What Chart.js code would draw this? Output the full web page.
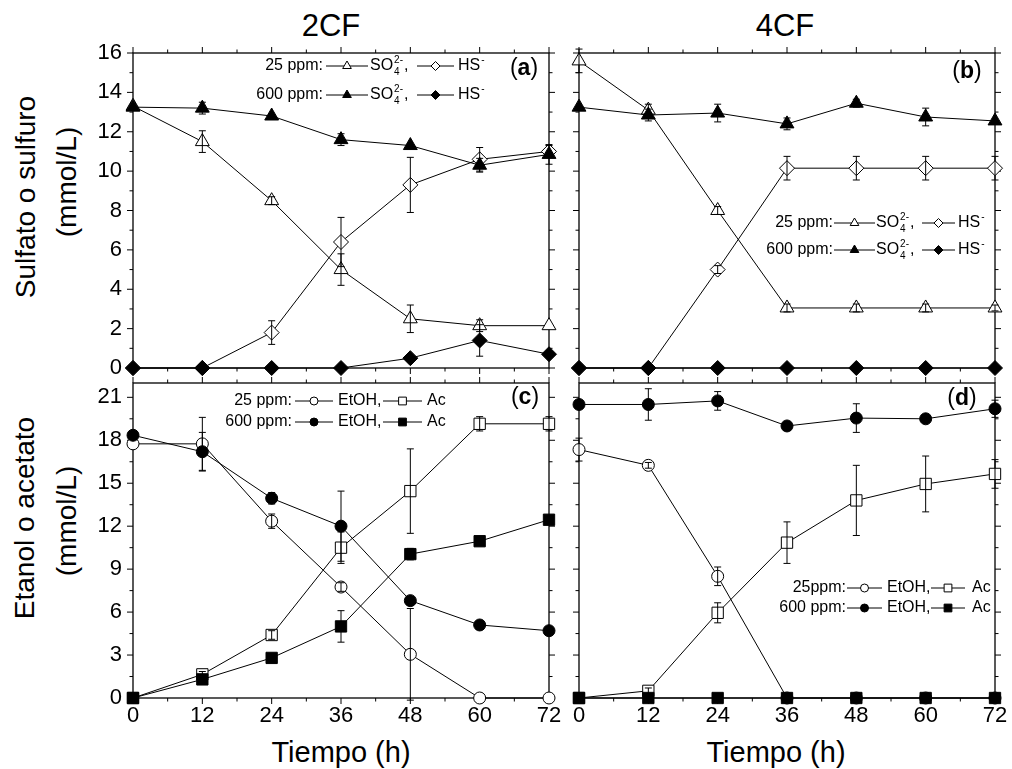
<!DOCTYPE html>
<html>
<head>
<meta charset="utf-8">
<script src="https://cdn.jsdelivr.net/npm/chart.js@4.4.1/dist/chart.umd.min.js"></script>
<style>
  body { margin: 0; background: #fff; width: 1012px; height: 769px; position: relative; overflow: hidden;
         font-family: "Liberation Sans", Arial, sans-serif; color: #000; }
  canvas { position: absolute; }
  .t { position: absolute; white-space: nowrap; line-height: 1; transform: translate(-50%, -50%); }
  .r { transform: translate(-50%, -50%) rotate(-90deg); }
</style>
</head>
<body>
<div class="t" style="left:331px;top:25px;font-size:31px">2CF</div>
<div class="t" style="left:785px;top:25px;font-size:31px">4CF</div>
<div class="t r" style="left:26px;top:197px;font-size:28px">Sulfato o sulfuro</div>
<div class="t r" style="left:67px;top:182px;font-size:28px">(mmol/L)</div>
<div class="t r" style="left:25px;top:518px;font-size:28px">Etanol o acetato</div>
<div class="t r" style="left:67px;top:521px;font-size:28px">(mmol/L)</div>
<div class="t" style="left:341px;top:752px;font-size:29px">Tiempo (h)</div>
<div class="t" style="left:776px;top:752px;font-size:29px">Tiempo (h)</div>

<canvas id="pa"></canvas>
<canvas id="pb"></canvas>
<canvas id="pc"></canvas>
<canvas id="pd"></canvas>

<script>
//DATA
var hours = [0, 12, 24, 36, 48, 60, 72];

//>>(a) 2CF - sulfate / sulfide
var a_so4_25     = [13.3, 11.5, 8.5, 5.0, 2.5, 2.15, 2.15];
var a_so4_25_err = [0, 0.55, 0.2, 0.8, 0.7, 0.3, 0];
var a_hs_25      = [0, 0, 1.8, 6.4, 9.3, 10.6, 11.0];
var a_hs_25_err  = [0, 0, 0.6, 1.25, 1.4, 0.6, 0.3];
var a_so4_600     = [13.25, 13.2, 12.8, 11.6, 11.3, 10.3, 10.85];
var a_so4_600_err = [0, 0.3, 0, 0.3, 0, 0.35, 0.5];
var a_hs_600      = [0, 0, 0, 0, 0.5, 1.4, 0.7];
var a_hs_600_err  = [0, 0, 0, 0, 0, 0.8, 0];

//>>(b) 4CF - sulfate / sulfide
var b_so4_25     = [15.6, 13.1, 8.0, 3.05, 3.05, 3.05, 3.05];
var b_so4_25_err = [0.6, 0.3, 0.2, 0.2, 0.2, 0.2, 0.15];
var b_hs_25      = [0, 0, 5.0, 10.15, 10.15, 10.15, 10.15];
var b_hs_25_err  = [0, 0, 0.2, 0.6, 0.6, 0.6, 0.6];
var b_so4_600     = [13.25, 12.85, 12.95, 12.4, 13.45, 12.75, 12.55];
var b_so4_600_err = [0, 0.3, 0.45, 0.3, 0.2, 0.45, 0];
var b_hs_600      = [0, 0, 0, 0, 0, 0, 0];
var b_hs_600_err  = [0, 0, 0, 0, 0, 0, 0];

//>>(c) 2CF - ethanol / acetate
var c_etoh_25     = [17.75, 17.75, 12.35, 7.75, 3.05, 0, 0];
var c_etoh_25_err = [0, 1.85, 0.5, 0.3, 3.2, 0, 0];
var c_ac_25       = [0, 1.65, 4.4, 10.5, 14.45, 19.15, 19.15];
var c_ac_25_err   = [0, 0.2, 0.3, 1.1, 2.95, 0.5, 0.5];
var c_etoh_600     = [18.35, 17.2, 13.95, 12.0, 6.8, 5.1, 4.7];
var c_etoh_600_err = [0, 1.35, 0.4, 2.45, 0, 0, 0];
var c_ac_600       = [0, 1.3, 2.8, 5.0, 10.05, 10.95, 12.45];
var c_ac_600_err   = [0, 0, 0, 1.1, 0.4, 0, 0];

//>>(d) 4CF - ethanol / acetate
var d_etoh_25     = [17.35, 16.25, 8.5, 0, 0, 0, 0];
var d_etoh_25_err = [0.8, 0.2, 0.65, 0, 0, 0, 0];
var d_ac_25       = [0, 0.5, 5.95, 10.85, 13.8, 14.95, 15.65];
var d_ac_25_err   = [0, 0.2, 0.7, 1.45, 2.45, 1.95, 1.0];
var d_etoh_600     = [20.5, 20.5, 20.75, 19.0, 19.55, 19.5, 20.2];
var d_etoh_600_err = [0, 1.1, 0.65, 0, 1.0, 0, 0.6];
var d_ac_600       = [0, 0, 0, 0, 0, 0, 0];
var d_ac_600_err   = [0, 0, 0, 0, 0, 0, 0];

var FONT = '"Liberation Sans", Arial, sans-serif';

//dataset builder
function ds(label, vals, errs, style, filled, r) {
  return {
    label: label,
    data: vals.map(function(v, i) { return {x: hours[i], y: v}; }),
    errs: errs,
    pointStyle: style,
    pointRadius: r,
    pointHoverRadius: r,
    pointBackgroundColor: filled ? '#000' : '#fff',
    pointBorderColor: '#000',
    pointBorderWidth: 1,
    borderColor: '#000',
    borderWidth: 1,
    fill: false,
    tension: 0,
    clip: false
  };
}

//small markers for the legends
function marker(ctx, style, x, y, r, filled) {
  ctx.beginPath();
  if (style == 'triangle') {
    ctx.moveTo(x, y - r);
    ctx.lineTo(x + 0.866 * r, y + 0.5 * r);
    ctx.lineTo(x - 0.866 * r, y + 0.5 * r);
  } else if (style == 'rectRot') {
    ctx.moveTo(x - r, y); ctx.lineTo(x, y - r); ctx.lineTo(x + r, y); ctx.lineTo(x, y + r);
  } else if (style == 'circle') {
    ctx.arc(x, y, r, 0, Math.PI * 2);
  } else {
    var s = r * Math.SQRT1_2;
    ctx.rect(x - s, y - s, 2 * s, 2 * s);
  }
  ctx.closePath();
  ctx.fillStyle = filled ? '#000' : '#fff';
  ctx.fill();
  ctx.lineWidth = 1;
  ctx.strokeStyle = '#000';
  ctx.stroke();
}

//frame, ticks, error bars, legend and tag
var panelPlugin = {
  id: 'panel',
  beforeDatasetsDraw: function(chart, args, o) {
    var ctx = chart.ctx, a = chart.chartArea;
    var xs = chart.scales.x, ys = chart.scales.y;
    ctx.save();
    ctx.strokeStyle = '#000';
    ctx.lineWidth = 1.3;
    ctx.strokeRect(a.left, a.top, a.right - a.left, a.bottom - a.top);
    ctx.lineWidth = 1;
    ctx.beginPath();
    var v, p, len;
    for (v = xs.min; v <= xs.max + 1e-6; v += o.xMinor) {
      p = xs.getPixelForValue(v);
      len = Math.abs(v / o.xMajor - Math.round(v / o.xMajor)) < 1e-6 ? 6 : 3.5;
      ctx.moveTo(p, a.bottom); ctx.lineTo(p, a.bottom + len);
      ctx.moveTo(p, a.top); ctx.lineTo(p, a.top - len);
    }
    for (v = ys.min; v <= ys.max + 1e-6; v += o.yMinor) {
      p = ys.getPixelForValue(v);
      len = Math.abs(v / o.yMajor - Math.round(v / o.yMajor)) < 1e-6 ? 6 : 3.5;
      ctx.moveTo(a.left, p); ctx.lineTo(a.left - len, p);
      ctx.moveTo(a.right, p); ctx.lineTo(a.right + len, p);
    }
    ctx.stroke();
    ctx.restore();
  },
  afterDatasetsDraw: function(chart, args, o) {
    var ctx = chart.ctx;
    var xs = chart.scales.x, ys = chart.scales.y;
    ctx.save();
    ctx.strokeStyle = '#000';
    ctx.lineWidth = 1;
    chart.data.datasets.forEach(function(d) {
      d.data.forEach(function(pt, i) {
        var e = d.errs[i];
        if (!e) return;
        var x = xs.getPixelForValue(pt.x);
        var y1 = ys.getPixelForValue(pt.y + e);
        var y2 = ys.getPixelForValue(Math.max(pt.y - e, ys.min - 0.2));
        ctx.beginPath();
        ctx.moveTo(x, y1); ctx.lineTo(x, y2);
        ctx.moveTo(x - 3.5, y1); ctx.lineTo(x + 3.5, y1);
        ctx.moveTo(x - 3.5, y2); ctx.lineTo(x + 3.5, y2);
        ctx.stroke();
      });
    });
    ctx.restore();
  },
  afterDraw: function(chart, args, o) {
    var ctx = chart.ctx, lg = o.legend, ox = o.ox, oy = o.oy;
    ctx.save();
    ctx.fillStyle = '#000';
    ctx.strokeStyle = '#000';
    ctx.textBaseline = 'middle';
    lg.rows.forEach(function(row) {
      var y = row.y - oy;
      ctx.font = '16px ' + FONT;
      ctx.textAlign = 'right';
      ctx.fillStyle = '#000';
      ctx.fillText(row.label, lg.labelRight - ox, y);
      lg.items.forEach(function(it, i) {
        var s = lg.samples[i];
        ctx.lineWidth = 1;
        ctx.strokeStyle = '#000';
        ctx.beginPath();
        ctx.moveTo(s[0] - ox, y); ctx.lineTo(s[1] - ox, y);
        ctx.stroke();
        marker(ctx, lg.styles[i], (s[0] + s[1]) / 2 - ox, y, lg.sizes[i], row.filled);
        ctx.fillStyle = '#000';
        ctx.textAlign = 'left';
        ctx.font = '16px ' + FONT;
        var tx = lg.texts[i] - ox;
        ctx.fillText(it.t, tx, y);
        tx += ctx.measureText(it.t).width;
        ctx.font = '10px ' + FONT;
        var w = 0;
        if (it.sub) { ctx.fillText(it.sub, tx + 1, y + 6); w = ctx.measureText(it.sub).width + 1; }
        if (it.sup) { ctx.fillText(it.sup, tx + 1, y - 6); w = Math.max(w, ctx.measureText(it.sup).width + 1); }
        if (it.after) { ctx.font = '16px ' + FONT; ctx.fillText(it.after, tx + w + 1, y); }
      });
    });
    //panel tag like (a)
    var tg = o.tag;
    ctx.font = '23px ' + FONT;
    var wp = ctx.measureText('(').width;
    ctx.font = 'bold 23px ' + FONT;
    var wl = ctx.measureText(tg.t).width;
    var x0 = tg.x - ox - (2 * wp + wl) / 2, ty = tg.y - oy;
    ctx.textAlign = 'left';
    ctx.font = '23px ' + FONT;
    ctx.fillText('(', x0, ty);
    ctx.fillText(')', x0 + wp + wl, ty);
    ctx.font = 'bold 23px ' + FONT;
    ctx.fillText(tg.t, x0 + wp, ty);
    ctx.restore();
  }
};

function makePanel(id, box, showX, showY, yMax, yMajor, yMinor, datasets, legend, tag) {
  var cv = document.getElementById(id);
  var left = box.L - 60, top = box.T - 25;
  var w = box.R - box.L + 85, h = box.B - box.T + 25 + (showX ? 50 : 15);
  cv.width = w; cv.height = h;
  cv.style.left = left + 'px'; cv.style.top = top + 'px';
  cv.style.width = w + 'px'; cv.style.height = h + 'px';
  return new Chart(cv.getContext('2d'), {
    type: 'line',
    data: { datasets: datasets },
    plugins: [panelPlugin],
    options: {
      responsive: false,
      animation: false,
      events: [],
      layout: { padding: { left: 0, top: 25, right: 25, bottom: showX ? 15 : 0 } },
      plugins: {
        legend: { display: false },
        tooltip: { enabled: false },
        panel: { xMajor: 12, xMinor: 6, yMajor: yMajor, yMinor: yMinor,
                 legend: legend, tag: tag, ox: left, oy: top }
      },
      scales: {
        x: {
          type: 'linear', min: 0, max: 72,
          grid: { display: false, drawTicks: false },
          border: { display: false },
          ticks: { display: showX, stepSize: 12, autoSkip: false, maxRotation: 0, padding: 5,
                   color: '#000', font: { family: FONT, size: 22 } },
          afterFit: function(s) {
            s.height = showX ? 35 : 15;
            s.paddingLeft = 0; s.paddingRight = 0;
          }
        },
        y: {
          type: 'linear', min: 0, max: yMax,
          grid: { display: false, drawTicks: false },
          border: { display: false },
          ticks: { display: showY, stepSize: yMajor, includeBounds: false, padding: 11,
                   color: '#000', font: { family: FONT, size: 22 } },
          afterFit: function(s) {
            s.width = 60;
            s.paddingTop = 0; s.paddingBottom = 0;
          }
        }
      }
    }
  });
}

var sulfLegendItems = [{t: 'SO', sub: '4', sup: '2-', after: ','}, {t: 'HS', sup: '-'}];
var ethLegendItems = [{t: 'EtOH,'}, {t: 'Ac'}];

makePanel('pa', {L: 133, T: 53, R: 549, B: 368}, false, true, 16, 2, 1, [
  ds('600 SO4', a_so4_600, a_so4_600_err, 'triangle', true, 8),
  ds('600 HS', a_hs_600, a_hs_600_err, 'rectRot', true, 7.5),
  ds('25 SO4', a_so4_25, a_so4_25_err, 'triangle', false, 8),
  ds('25 HS', a_hs_25, a_hs_25_err, 'rectRot', false, 7.5)
], {
  rows: [{y: 66, label: '25 ppm:', filled: false}, {y: 95, label: '600 ppm:', filled: true}],
  labelRight: 323, samples: [[326, 368], [417, 454]], texts: [370, 458],
  styles: ['triangle', 'rectRot'], sizes: [5, 4.5], items: sulfLegendItems
}, {t: 'a', x: 524, y: 69});

makePanel('pb', {L: 579, T: 53, R: 995, B: 368}, false, false, 16, 2, 1, [
  ds('600 SO4', b_so4_600, b_so4_600_err, 'triangle', true, 8),
  ds('600 HS', b_hs_600, b_hs_600_err, 'rectRot', true, 7.5),
  ds('25 SO4', b_so4_25, b_so4_25_err, 'triangle', false, 8),
  ds('25 HS', b_hs_25, b_hs_25_err, 'rectRot', false, 7.5)
], {
  rows: [{y: 223, label: '25 ppm:', filled: false}, {y: 250, label: '600 ppm:', filled: true}],
  labelRight: 833, samples: [[834, 875], [922, 955]], texts: [876, 958],
  styles: ['triangle', 'rectRot'], sizes: [5, 4.5], items: sulfLegendItems
}, {t: 'b', x: 967, y: 72});

makePanel('pc', {L: 133, T: 383, R: 549, B: 698}, true, true, 22, 3, 1.5, [
  ds('600 EtOH', c_etoh_600, c_etoh_600_err, 'circle', true, 6),
  ds('600 Ac', c_ac_600, c_ac_600_err, 'rect', true, 8),
  ds('25 EtOH', c_etoh_25, c_etoh_25_err, 'circle', false, 6),
  ds('25 Ac', c_ac_25, c_ac_25_err, 'rect', false, 8)
], {
  rows: [{y: 401, label: '25 ppm:', filled: false}, {y: 422, label: '600 ppm:', filled: true}],
  labelRight: 292, samples: [[295, 333], [383, 422]], texts: [338, 427],
  styles: ['circle', 'rect'], sizes: [4, 5.5], items: ethLegendItems
}, {t: 'c', x: 525, y: 398});

makePanel('pd', {L: 579, T: 383, R: 995, B: 698}, true, false, 22, 3, 1.5, [
  ds('600 EtOH', d_etoh_600, d_etoh_600_err, 'circle', true, 6),
  ds('600 Ac', d_ac_600, d_ac_600_err, 'rect', true, 8),
  ds('25 EtOH', d_etoh_25, d_etoh_25_err, 'circle', false, 6),
  ds('25 Ac', d_ac_25, d_ac_25_err, 'rect', false, 8)
], {
  rows: [{y: 588, label: '25ppm:', filled: false}, {y: 608, label: '600 ppm:', filled: true}],
  labelRight: 846, samples: [[847, 882], [931, 965]], texts: [887, 972],
  styles: ['circle', 'rect'], sizes: [4, 5.5], items: ethLegendItems
}, {t: 'd', x: 962, y: 399});
</script>
</body>
</html>
